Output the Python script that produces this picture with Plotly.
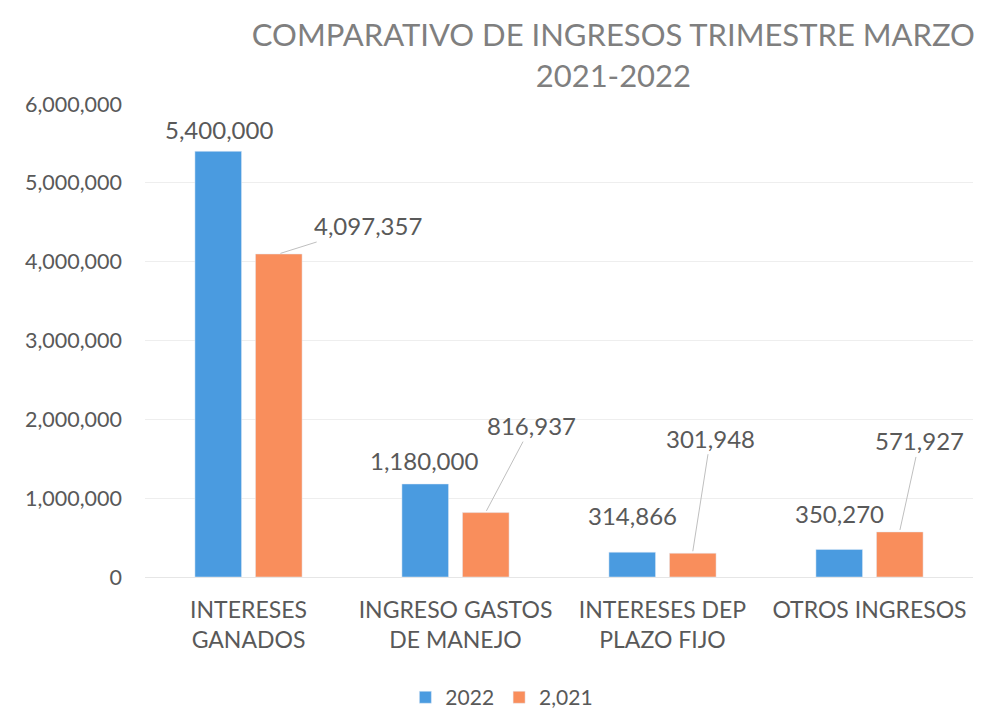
import plotly.graph_objects as go

categories = ["INTERESES<br>GANADOS", "INGRESO GASTOS<br>DE MANEJO", "INTERESES DEP<br>PLAZO FIJO", "OTROS INGRESOS"]
values_2022 = [5400000, 1180000, 314866, 350270]
values_2021 = [4097357, 816937, 301948, 571927]
series_names = ["2022", "2,021"]
y_ticks = [0, 1000000, 2000000, 3000000, 4000000, 5000000, 6000000]

BLUE = "#4a9be0"
ORANGE = "#f98e5c"
TEXT = "#595959"
FONT = "Lato"

fig = go.Figure()
fig.add_trace(go.Bar(x=categories, y=values_2022, name=series_names[0], marker_color=BLUE))
fig.add_trace(go.Bar(x=categories, y=values_2021, name=series_names[1], marker_color=ORANGE))

# blue data labels (above bars)
blue_shift = [(0, 22), (-2, 23), (0, 37), (0, 36)]
for c, v, (dx, dy) in zip(categories, values_2022, blue_shift):
    fig.add_annotation(x=c, y=v, text=f"{v:,}", showarrow=False, xshift=-30 + dx, yshift=dy,
                       font=dict(family=FONT, size=24, color=TEXT))

# orange data labels with leader lines
orange_off = [(89, -28), (46, -87), (18, -115), (20, -91)]
for c, v, (ax, ay) in zip(categories, values_2021, orange_off):
    fig.add_annotation(x=c, y=v, text=f"{v:,}", showarrow=True, arrowhead=0, arrowwidth=1,
                       arrowcolor="#bfbfbf", ax=ax, ay=ay, xshift=30, standoff=2,
                       font=dict(family=FONT, size=24, color=TEXT))

fig.update_layout(
    width=999, height=711,
    paper_bgcolor="white", plot_bgcolor="white",
    margin=dict(l=145, r=26, t=104, b=134, autoexpand=False),
    barmode="group", bargap=0.415, bargroupgap=0.23,
    font=dict(family=FONT, color=TEXT),
    title=dict(text="COMPARATIVO DE INGRESOS TRIMESTRE MARZO<br>2021-2022", x=0.614, xanchor="center",
               y=0.935, yanchor="top", font=dict(family=FONT, size=31, color="#7f7f7f")),
    legend=dict(orientation="h", x=0.431, xanchor="center", y=-0.255, yanchor="middle",
                font=dict(family=FONT, size=21, color=TEXT), traceorder="normal"),
    showlegend=True,
)
fig.update_yaxes(range=[0, 6000000], tickvals=y_ticks, tickformat=",", showgrid=True,
                 gridcolor="#eeeeee", zeroline=False, showline=False, ticks="", automargin=False,
                 tickfont=dict(family=FONT, size=21.5, color=TEXT), ticklabelstandoff=22)
fig.update_xaxes(showline=True, linecolor="#e6e6e6", ticks="", automargin=False,
                 tickfont=dict(family=FONT, size=23, color=TEXT), ticklabelstandoff=12)

fig.write_html("out.html", config={"displayModeBar": False},
               post_script="document.body.style.margin='0';")
